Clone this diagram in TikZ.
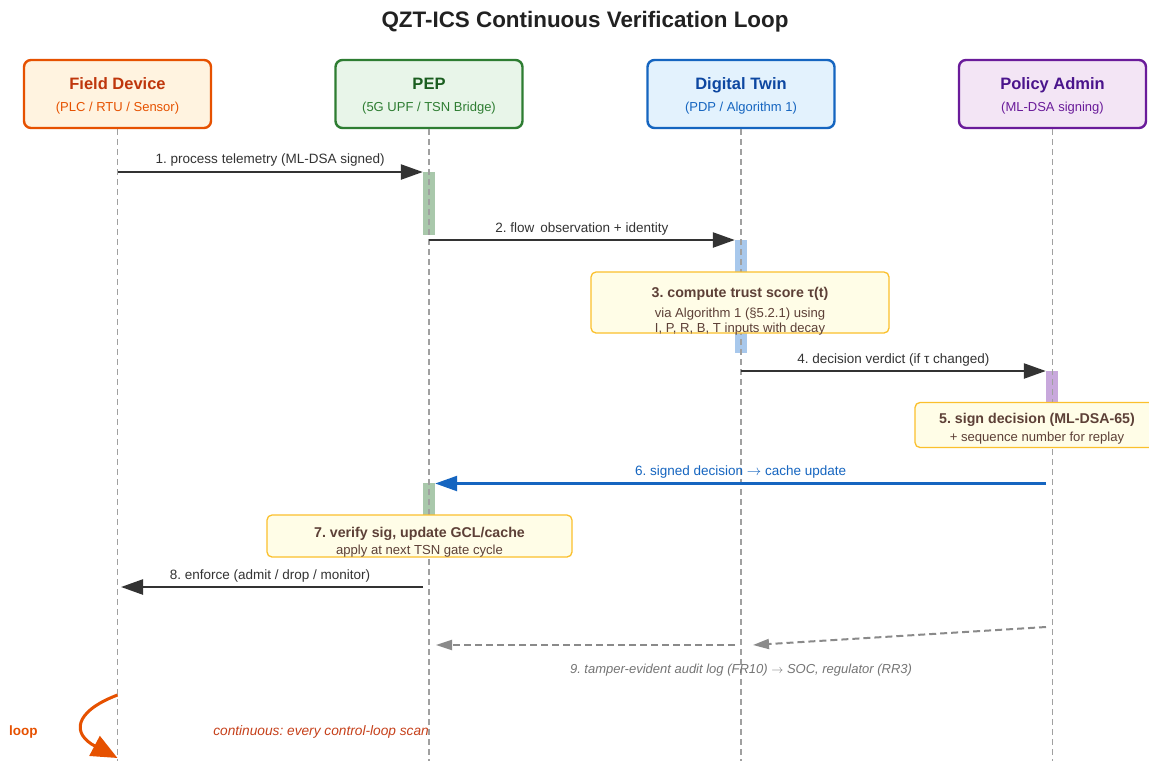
\documentclass[tikz,border=0pt]{standalone}
\usepackage{fontspec}
\setmainfont{Liberation Sans}
\usetikzlibrary{arrows.meta}
\frenchspacing
\newcommand{\rarr}{\ensuremath{\rightarrow}}

% palette
\definecolor{fdBorder}{HTML}{E65100}
\definecolor{fdFill}{HTML}{FFF3E0}
\definecolor{fdTitle}{HTML}{BF360C}
\definecolor{pepBorder}{HTML}{2E7D32}
\definecolor{pepFill}{HTML}{E8F5E9}
\definecolor{pepTitle}{HTML}{1B5E20}
\definecolor{dtBorder}{HTML}{1565C0}
\definecolor{dtFill}{HTML}{E3F2FD}
\definecolor{dtTitle}{HTML}{0D47A1}
\definecolor{paBorder}{HTML}{6A1B9A}
\definecolor{paFill}{HTML}{F3E5F5}
\definecolor{paTitle}{HTML}{4A148C}
\definecolor{noteFill}{HTML}{FFFDE7}
\definecolor{noteBorder}{HTML}{FBC02D}
\definecolor{noteText}{HTML}{5D4037}
\definecolor{msgColor}{HTML}{333333}
\definecolor{lifeColor}{HTML}{A0A0A0}
\definecolor{auditColor}{HTML}{8A8A8A}
\definecolor{auditText}{HTML}{757575}
\definecolor{actPep}{HTML}{A9C8AB}
\definecolor{actDt}{HTML}{A8C8EC}
\definecolor{actPa}{HTML}{C8A8DC}
\definecolor{signedBlue}{HTML}{1565C0}
\definecolor{loopColor}{HTML}{E65100}
\definecolor{loopText}{HTML}{C6401A}

\tikzset{
  txt/.style={inner sep=0pt, anchor=base},
  actorbox/.style={rounded corners=7pt, line width=2.4pt, minimum width=187pt,
    minimum height=68pt, inner sep=0pt},
  actortitle/.style={txt, font=\fontsize{16.5}{18}\selectfont\bfseries},
  actorsub/.style={txt, font=\fontsize{13}{15}\selectfont},
  lifeline/.style={draw=lifeColor, line width=1.2pt, dash pattern=on 6pt off 4pt},
  actbar/.style={minimum width=12pt, inner sep=0pt, draw=none, anchor=north},
  msgarrow/.style={draw=msgColor, line width=2.4pt,
    -{Triangle[length=22pt,width=15pt]}},
  msglabel/.style={txt, font=\fontsize{13.5}{15}\selectfont, text=msgColor},
  bluearrow/.style={draw=signedBlue, line width=2.4pt,
    -{Triangle[length=22pt,width=15pt]}},
  auditarrow/.style={draw=auditColor, line width=2pt, dash pattern=on 7pt off 4pt,
    -{Triangle[length=16pt,width=10pt]}},
  notebox/.style={draw=noteBorder, fill=noteFill, line width=1.3pt,
    rounded corners=5pt, inner sep=0pt},
  notehead/.style={txt, font=\fontsize{14.2}{16}\selectfont\bfseries, text=noteText},
  notebody/.style={txt, font=\fontsize{13.1}{15}\selectfont, text=noteText},
}

\begin{document}
\begin{tikzpicture}[x=1pt, y=-1pt]
\useasboundingbox (0,0) rectangle (1149,761);
\fill[white] (0,0) rectangle (1149,761);

% title
\node[txt, font=\fontsize{22.4}{24}\selectfont\bfseries, text=black!87] (title)
  at (585,27) {QZT-ICS Continuous Verification Loop};

% participants
\node[actorbox, draw=fdBorder, fill=fdFill] (fd) at (117.5,94) {};
\node[actortitle, text=fdTitle] (fdT) at (117.5,89.6) {Field Device};
\node[actorsub, text=fdBorder] (fdS) at (117.5,111.3) {(PLC / RTU / Sensor)};

\node[actorbox, draw=pepBorder, fill=pepFill] (pep) at (429,94) {};
\node[actortitle, text=pepTitle] (pepT) at (429,89.6) {PEP};
\node[actorsub, text=pepBorder] (pepS) at (429,111.3) {(5G UPF / TSN Bridge)};

\node[actorbox, draw=dtBorder, fill=dtFill] (dt) at (741,94) {};
\node[actortitle, text=dtTitle] (dtT) at (741,89.6) {Digital Twin};
\node[actorsub, text=dtBorder] (dtS) at (741,111.3) {(PDP / Algorithm 1)};

\node[actorbox, draw=paBorder, fill=paFill] (pa) at (1052.5,94) {};
\node[actortitle, text=paTitle] (paT) at (1052.5,89.6) {Policy Admin};
\node[actorsub, text=paBorder] (paS) at (1052.5,111.3) {(ML-DSA signing)};

% activation bars
\node[actbar, fill=actPep, minimum height=63pt] (a1) at (429,172) {};
\node[actbar, fill=actDt,  minimum height=113pt] (a2) at (741,240) {};
\node[actbar, fill=actPa,  minimum height=31pt] (a3) at (1052,371) {};
\node[actbar, fill=actPep, minimum height=32pt] (a4) at (429,483) {};

% lifelines
\coordinate (fdEnd)  at (117.5,761);
\coordinate (pepEnd) at (429,761);
\coordinate (dtEnd)  at (741,761);
\coordinate (paEnd)  at (1052.5,761);
\draw[lifeline] (fd.south) -- (fdEnd);
\draw[lifeline] (pep.south) -- (pepEnd);
\draw[lifeline] (dt.south) -- (dtEnd);
\draw[lifeline] (pa.south) -- (paEnd);

% 1. telemetry
\draw[msgarrow] (fd |- a1.north) -- (a1.north west)
  node[msglabel, midway, yshift=8.6pt] {1. process telemetry (ML-DSA signed)};

% 2. flow observation
\draw[msgarrow] (pep |- a2.north) -- (a2.north west)
  node[msglabel, midway, yshift=7.6pt] {2. flow \,observation + identity};

% 3. trust score
\node[notebox, minimum width=298pt, minimum height=61pt] (n3) at (740,302.5) {};
\node[notehead] (n3a) at (740,297.7) {3. compute trust score τ(t)};
\node[notebody] (n3b) at (740,317.2) {via Algorithm 1 (§5.2.1) using};
\node[notebody] (n3c) at (740,332.7) {I, P, R, B, T inputs with decay};

% 4. verdict
\draw[msgarrow] (dt |- a3.north) -- (a3.north west)
  node[msglabel, midway, yshift=7.6pt] {4. decision verdict (if τ changed)};

% 5. signing
\node[notebox, minimum width=244pt, minimum height=45pt] (n5) at (1037,425) {};
\node[notehead] (n5a) at (1037,423.7) {5. sign decision (ML-DSA-65)};
\node[notebody] (n5b) at (1037,441.2) {+ sequence number for replay};

% 6. signed decision
\coordinate (m6s) at (1046,483.5);
\draw[bluearrow] (m6s) -- (a4.north east |- m6s)
  node[msglabel, text=signedBlue, midway, yshift=8.1pt] {6. signed decision \rarr{} cache update};

% 7. verify
\node[notebox, minimum width=305pt, minimum height=42pt] (n7) at (419.5,536) {};
\node[notehead] (n7a) at (419.5,537.7) {7. verify sig, update GCL/cache};
\node[notebody] (n7b) at (419.5,554.2) {apply at next TSN gate cycle};

% 8. enforce
\coordinate (m8s) at (423,587);
\coordinate (m8e) at (121,587);
\draw[msgarrow] (m8s) -- (m8e)
  node[msglabel, midway, yshift=7.6pt, xshift=-2pt] {8. enforce (admit / drop / monitor)};

% 9. audit log
\coordinate (m9a) at (1046,627);
\coordinate (m9b) at (753,645);
\coordinate (m9c) at (735,645);
\coordinate (m9d) at (436,645);
\draw[auditarrow] (m9a) -- (m9b);
\draw[auditarrow] (m9c) -- (m9d);
\node[txt, font=\fontsize{13}{15}\selectfont\itshape, text=auditText] (m9l)
  at (741,673.2) {9. tamper-evident audit log (FR10) \rarr{} SOC, regulator (RR3)};

% loop marker
\coordinate (lpS) at (117.5,695);
\coordinate (lpE) at (117.5,758);
\draw[draw=loopColor, line width=3pt, -{Triangle[length=26pt,width=22pt]}]
  (lpS) .. controls (73,712) and (72,734) .. (lpE);
\node[txt, font=\fontsize{13.5}{15}\selectfont\bfseries, text=loopColor, anchor=base west]
  (lpL) at (9,735.4) {loop};
\node[txt, font=\fontsize{13.7}{15}\selectfont\itshape, text=loopText, anchor=base east]
  (lpT) at (429,735.4) {continuous: every control-loop scan};
\end{tikzpicture}
\end{document}
